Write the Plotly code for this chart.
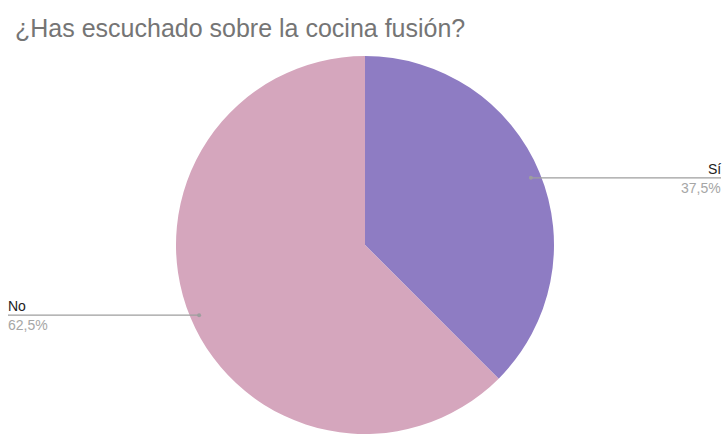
import math
import plotly.graph_objects as go

title = "¿Has escuchado sobre la cocina fusión?"
labels = ["Sí", "No"]
values = [37.5, 62.5]
colors = ["#8e7cc3", "#d5a6bd"]

W, H = 722, 434
cx, cy, r = 365, 245, 189  # pixel geometry of the pie

fig = go.Figure()
fig.add_trace(go.Pie(
    labels=labels, values=values, sort=False, direction="clockwise", rotation=0,
    marker=dict(colors=colors, line=dict(width=0)),
    textinfo="none", hoverinfo="skip", showlegend=False,
    domain=dict(x=[(cx - r) / W, (cx + r) / W], y=[max(0, (H - cy - r) / H), min(1, (H - cy + r) / H)]),
))

total = sum(values)
start = 0.0
shapes, annotations = [], []
for lab, v in zip(labels, values):
    frac = v / total
    mid = (start + frac / 2) * 2 * math.pi
    start += frac
    px = cx + 0.95 * r * math.sin(mid)
    py = cy + 1.5 - 0.95 * r * math.cos(mid)
    right = math.sin(mid) > 0
    ex = W - 1 if right else 8
    shift = 2 if right else -2
    pct = f"{v / total * 100:.1f}".replace(".", ",") + "%"
    shapes.append(dict(type="line", xref="paper", yref="paper",
                       x0=px / W, x1=ex / W, y0=1 - py / H, y1=1 - py / H,
                       line=dict(color="#9e9e9e", width=1.3)))
    shapes.append(dict(type="circle", xref="paper", yref="paper",
                       x0=(px - 2) / W, x1=(px + 2) / W,
                       y0=1 - (py + 2) / H, y1=1 - (py - 2) / H,
                       fillcolor="#9e9e9e", line=dict(width=0)))
    anchor = "right" if right else "left"
    annotations.append(dict(text=lab, xref="paper", yref="paper", x=ex / W, y=1 - (py + 1) / H,
                            xanchor=anchor, yanchor="bottom", showarrow=False, xshift=shift,
                            font=dict(family="Arial, Liberation Sans", size=14, color="#222222")))
    annotations.append(dict(text=pct, xref="paper", yref="paper", x=ex / W, y=1 - (py + 0) / H,
                            xanchor=anchor, yanchor="top", showarrow=False, xshift=shift,
                            font=dict(family="Arial, Liberation Sans", size=14, color="#a6a6a6")))

annotations.append(dict(text=title, xref="paper", yref="paper", x=13 / W, y=1 - 12 / H,
                        xanchor="left", yanchor="top", showarrow=False,
                        font=dict(family="Arial, Liberation Sans", size=25, color="#757575")))

fig.update_layout(width=W, height=H, margin=dict(l=0, r=0, t=0, b=0),
                  paper_bgcolor="white", plot_bgcolor="white",
                  shapes=shapes, annotations=annotations)
fig.write_html("out.html")
